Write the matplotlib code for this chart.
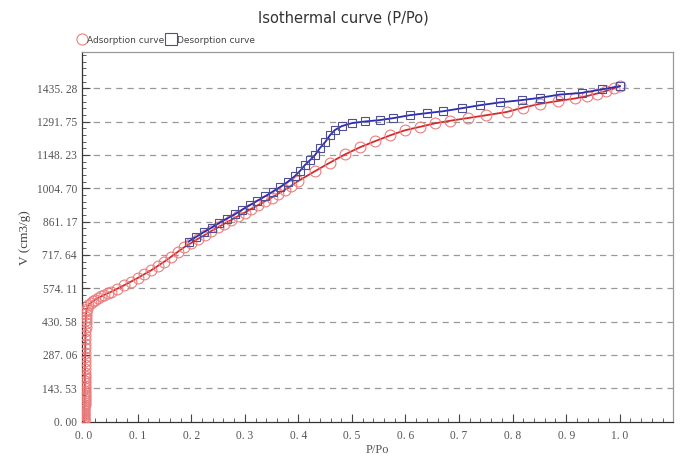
import matplotlib.pyplot as plt
from matplotlib.ticker import MultipleLocator, FixedLocator, FixedFormatter

# adsorption branch (P/Po, V)
ads_x = [0.0002, 0.0002, 0.0003, 0.0003, 0.0004, 0.0004, 0.0005, 0.0005, 0.0006, 0.0006,
         0.0007, 0.0007, 0.0008, 0.0008, 0.0009, 0.0009, 0.001, 0.001, 0.0011, 0.0011,
         0.0012, 0.0012, 0.0013, 0.0013, 0.0014, 0.0014, 0.0015, 0.0016, 0.0017, 0.0018,
         0.0019, 0.002, 0.0021, 0.0022, 0.0023, 0.0024, 0.0025, 0.0026, 0.0028, 0.003,
         0.0033, 0.0037, 0.0042, 0.005, 0.008, 0.012, 0.016, 0.02, 0.026, 0.032,
         0.038, 0.044,
         0.050, 0.062, 0.075, 0.087, 0.100, 0.112, 0.125, 0.137, 0.150, 0.162,
         0.175, 0.187, 0.200, 0.212, 0.225, 0.237, 0.250, 0.262, 0.275, 0.287,
         0.300, 0.312, 0.325, 0.337, 0.350, 0.362, 0.375, 0.387, 0.400,
         0.431, 0.459, 0.487, 0.515, 0.543, 0.571, 0.599, 0.627, 0.655, 0.683,
         0.717, 0.751, 0.789, 0.820, 0.851, 0.884, 0.916, 0.938, 0.957, 0.975,
         0.990, 1.000]
ads_y = [0, 5, 10, 15, 20, 26, 32, 38, 44, 51,
         58, 65, 72, 80, 88, 96, 105, 114, 123, 133,
         143, 153, 164, 175, 186, 198, 210, 225, 242, 260,
         278, 297, 316, 335, 354, 373, 391, 408, 424, 438,
         451, 463, 474, 484, 500, 510, 517, 524, 532, 539,
         546, 552,
         558, 572, 587, 602, 618, 634, 651, 669, 689, 709,
         731, 751, 769, 786, 803, 820, 836, 852, 868, 884,
         900, 916, 932, 948, 964, 981, 998, 1016, 1036,
         1078, 1115, 1150, 1181, 1207, 1232, 1254, 1269, 1284, 1295,
         1307, 1319, 1333, 1352, 1368, 1380, 1391, 1401, 1412, 1424,
         1435, 1444]

# desorption branch
des_x = [0.195, 0.209, 0.223, 0.238, 0.252, 0.266, 0.281, 0.295, 0.309, 0.323,
         0.338, 0.352, 0.366, 0.380, 0.393, 0.403, 0.412, 0.422, 0.431, 0.440,
         0.450, 0.459, 0.468, 0.481, 0.500, 0.524, 0.552, 0.576, 0.608, 0.640,
         0.670, 0.705, 0.739, 0.776, 0.817, 0.851, 0.888, 0.929, 0.966, 1.000]
des_y = [775, 795, 815, 835, 855, 873, 892, 912, 931, 950,
         970, 990, 1010, 1032, 1056, 1079, 1104, 1126, 1147, 1177,
         1203, 1233, 1255, 1272, 1285, 1292, 1298, 1306, 1319, 1328,
         1336, 1349, 1362, 1374, 1384, 1394, 1408, 1415, 1430, 1444]

yticks = [0, 143.53, 287.06, 430.58, 574.11, 717.64, 861.17, 1004.70, 1148.23, 1291.75, 1435.28]
ytick_labels = ['0. 00', '143. 53', '287. 06', '430. 58', '574. 11', '717. 64',
                '861. 17', '1004. 70', '1148. 23', '1291. 75', '1435. 28']
xticks = [0.0, 0.1, 0.2, 0.3, 0.4, 0.5, 0.6, 0.7, 0.8, 0.9, 1.0]
xtick_labels = ['0. 0', '0. 1', '0. 2', '0. 3', '0. 4', '0. 5', '0. 6', '0. 7', '0. 8', '0. 9', '1. 0']

fig = plt.figure(figsize=(6.86, 4.61), dpi=100)
ax = fig.add_axes([0.1195, 0.0846, 0.862, 0.802])

ax.plot(ads_x, ads_y, color='#d42a2a', lw=1.3, marker='o', ms=7.8, mfc='none',
        mec='#ea7e7e', mew=0.8, label='Adsorption curve', zorder=3)
ax.plot(des_x, des_y, color='#2a2ab8', lw=1.3, marker='s', ms=5.5, mfc='none',
        mec='#4f4f92', mew=0.8, label='Desorption curve', zorder=4)

ax.set_xlim(-0.004, 1.1)
ax.set_ylim(-2, 1590)

ax.yaxis.set_major_locator(FixedLocator(yticks))
ax.yaxis.set_major_formatter(FixedFormatter(ytick_labels))
ax.yaxis.set_minor_locator(MultipleLocator(143.528 / 5))
ax.xaxis.set_major_locator(FixedLocator(xticks))
ax.xaxis.set_major_formatter(FixedFormatter(xtick_labels))
ax.xaxis.set_minor_locator(MultipleLocator(0.02))

ax.tick_params(which='both', direction='in', colors='#444', labelcolor='#555',
               labelsize=8.3, top=False, right=False)
ax.tick_params(which='major', length=6, width=0.8)
ax.tick_params(axis='x', which='major', pad=6)
ax.tick_params(which='minor', length=3, width=0.6)
for lab in ax.get_xticklabels() + ax.get_yticklabels():
    lab.set_fontfamily('Liberation Serif')

for yv in yticks[1:]:
    ax.axhline(yv, color='#999999', lw=0.9, ls=(0, (5, 4)), zorder=1)

ax.spines['left'].set_color('#333')
ax.spines['bottom'].set_color('#333')
ax.spines['top'].set_color('#999')
ax.spines['right'].set_color('#999')
for s in ax.spines.values():
    s.set_linewidth(0.9)

ax.set_xlabel('P/Po', fontsize=9, color='#555', family='Liberation Serif', labelpad=1)
ax.set_ylabel('V (cm3/g)', fontsize=9.5, color='#444', family='Liberation Serif', labelpad=4)

fig.text(0.5, 0.962, 'Isothermal curve (P/Po)', ha='center', va='center',
         fontsize=10.5, color='#333')

h, l = ax.get_legend_handles_labels()
leg = fig.legend(h, l, loc='center left', bbox_to_anchor=(0.108, 0.913), ncol=2,
                 frameon=False, fontsize=6.5, handlelength=0.9, handletextpad=0.15,
                 columnspacing=0.3, borderaxespad=0)
for lh in leg.get_lines():
    lh.set_linestyle('none')
    lh.set_markersize(8)
for t in leg.get_texts():
    t.set_color('#444')

fig.savefig('out.png', dpi=100)
